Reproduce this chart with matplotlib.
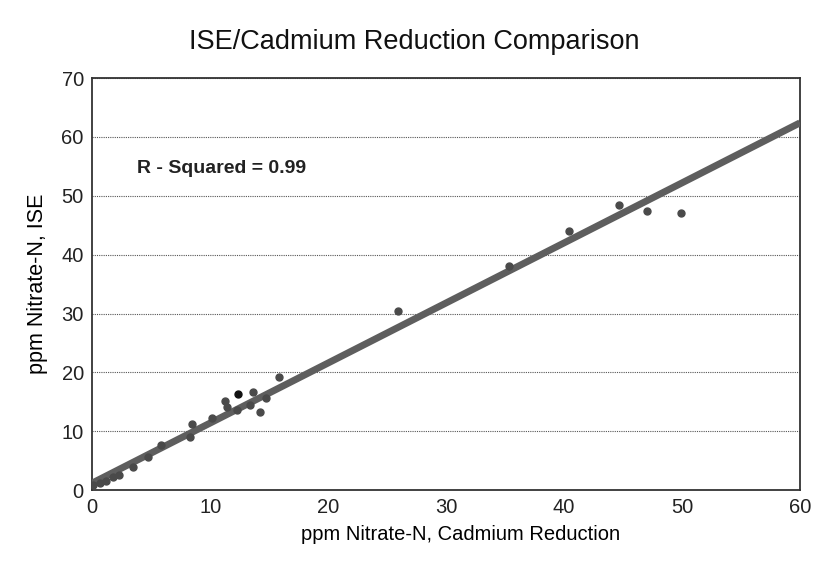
"""ISE vs cadmium reduction nitrate comparison scatter"""

import matplotlib

matplotlib.use("Agg")
import matplotlib.pyplot as plt
import numpy as np

plt.rcParams["font.family"] = ["Liberation Sans", "DejaVu Sans"]

# ppm nitrate-N, cadmium reduction (x) vs ISE (y)
cadmium = [0.1, 0.7, 1.2, 1.8, 2.3, 3.5, 4.7, 5.8, 8.3, 8.5, 10.2, 11.3, 11.4,
           12.3, 13.4, 13.6, 14.2, 14.7, 15.8, 25.9, 35.3, 40.4, 44.7, 47.0,
           49.9]
ise = [0.8, 1.2, 1.6, 2.2, 2.6, 3.9, 5.6, 7.6, 9.0, 11.3, 12.2, 15.1, 14.1,
       13.6, 14.4, 16.6, 13.2, 15.6, 19.2, 30.5, 38.0, 44.0, 48.4, 47.5,
       47.0]
outlier = (12.4, 16.4)

fit_slope = 1.02
fit_intercept = 1.2
r_squared = 0.99

xticks = [0, 10, 20, 30, 40, 50, 60]
yticks = [0, 10, 20, 30, 40, 50, 60, 70]

fig = plt.figure(figsize=(8.23, 5.66), dpi=100)
ax = fig.add_axes([0.112, 0.134, 0.86, 0.728])

fit_x = np.array([0, 60])
ax.plot(fit_x, fit_slope * fit_x + fit_intercept, color="#5e5e5e", lw=5,
        solid_capstyle="butt", zorder=3)
ax.plot(cadmium, ise, "o", color="#4a4a4a", ms=5, zorder=4)
ax.plot(*outlier, "o", color="#111111", ms=5, zorder=4)

ax.set_xlim(0, 60)
ax.set_ylim(0, 70)
ax.set_xticks(xticks)
ax.set_yticks(yticks)
ax.tick_params(length=0, labelsize=14.5, pad=6, colors="#222222")
ax.yaxis.grid(True, linestyle=(0, (1, 1)), color="#555555", lw=0.8)
ax.set_axisbelow(True)
for spine in ax.spines.values():
    spine.set_color("#333333")
    spine.set_linewidth(1.3)

ax.set_xlabel("ppm Nitrate-N, Cadmium Reduction", fontsize=14.5, labelpad=7)
ax.xaxis.set_label_coords(0.52, -0.085)
ax.set_ylabel("ppm Nitrate-N, ISE", fontsize=15.5, labelpad=10)
ax.text(3.8, 54.7, f"R - Squared = {r_squared}", fontsize=14,
        fontweight="bold", va="center", color="#222222")

fig.text(414 / 823, 1 - 42 / 566, "ISE/Cadmium Reduction Comparison",
         ha="center", va="center", fontsize=19.5, color="#111111")

fig.savefig("out.png", dpi=100)
